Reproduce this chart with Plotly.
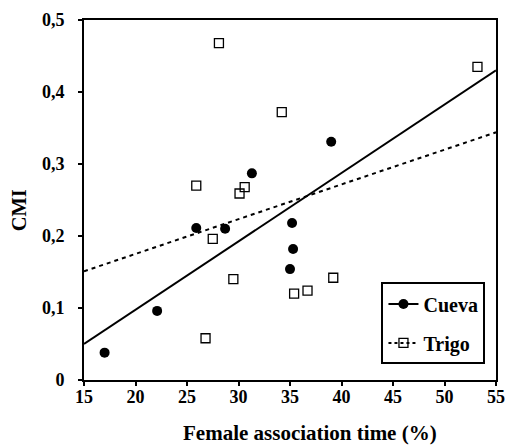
import plotly.graph_objects as go

# Data
cueva_x = [17.0, 22.1, 25.9, 28.7, 31.3, 39.0, 35.2, 35.3, 35.0]
cueva_y = [0.038, 0.096, 0.211, 0.210, 0.287, 0.331, 0.218, 0.182, 0.154]
trigo_x = [28.1, 53.2, 34.2, 25.9, 30.6, 30.1, 27.5, 29.5, 26.8, 35.4, 36.7, 39.2]
trigo_y = [0.468, 0.435, 0.372, 0.270, 0.268, 0.259, 0.196, 0.140, 0.058, 0.120, 0.124, 0.142]
trend_x = [15, 55]
cueva_trend = [0.050, 0.430]
trigo_trend = [0.151, 0.344]
x_ticks = [15, 20, 25, 30, 35, 40, 45, 50, 55]
x_ticklabels = ["15", "20", "25", "30", "35", "40", "45", "50", "55"]
y_ticks = [0, 0.1, 0.2, 0.3, 0.4, 0.5]
y_ticklabels = ["0", "0,1", "0,2", "0,3", "0,4", "0,5"]

FONT = "Liberation Serif"

fig = go.Figure()
fig.add_trace(go.Scatter(x=trend_x, y=cueva_trend, mode="lines",
                         line=dict(color="black", width=2), showlegend=False))
fig.add_trace(go.Scatter(x=trend_x, y=trigo_trend, mode="lines",
                         line=dict(color="black", width=2, dash="4px,4px"), showlegend=False))
fig.add_trace(go.Scatter(x=cueva_x, y=cueva_y, mode="markers",
                         marker=dict(symbol="circle", size=10, color="black"), showlegend=False))
fig.add_trace(go.Scatter(x=trigo_x, y=trigo_y, mode="markers",
                         marker=dict(symbol="square-open", size=9, color="black",
                                     line=dict(width=1.3)), showlegend=False))
# legend entries
fig.add_trace(go.Scatter(x=[None], y=[None], mode="lines+markers", name="<b>Cueva</b>",
                         legendgroup="a",
                         line=dict(color="black", width=2),
                         marker=dict(symbol="circle", size=10, color="black")))
fig.add_trace(go.Scatter(x=[None], y=[None], mode="lines+markers", name="<b>Trigo</b>",
                         legendgroup="b",
                         line=dict(color="black", width=2, dash="3px,3px"),
                         marker=dict(symbol="square-open", size=9, color="black", line=dict(width=1.3))))

fig.update_layout(
    width=515, height=445,
    margin=dict(l=84, r=10, t=17, b=65),
    paper_bgcolor="white", plot_bgcolor="white",
    font=dict(family=FONT, size=18, color="black"),
    showlegend=True,
    legend=dict(x=0.722, y=0.271, xanchor="left", yanchor="top",
                bordercolor="black", borderwidth=2, bgcolor="white",
                font=dict(family=FONT, size=20, color="black"),
                itemwidth=30,
                tracegroupgap=10, traceorder="grouped"),
    annotations=[
        dict(text="<b>Female association time (%)</b>", xref="paper", yref="paper",
             x=(315 - 84) / 421, y=(380 - 433) / 363, xanchor="center", yanchor="middle",
             showarrow=False, font=dict(family=FONT, size=21, color="black")),
        dict(text="<b>CMI</b>", xref="paper", yref="paper", textangle=-90,
             x=(17.5 - 84) / 421, y=(380 - 209) / 363, xanchor="center", yanchor="middle",
             showarrow=False, font=dict(family=FONT, size=20.5, color="black")),
    ],
)
fig.update_xaxes(range=[15, 55], tickvals=x_ticks,
                 ticktext=["<b>%s</b>" % t for t in x_ticklabels],
                 ticks="outside", ticklen=4, ticklabelstandoff=-5,
                 tickwidth=1.5, tickcolor="black",
                 showline=True, linecolor="black", linewidth=2, mirror=True,
                 showgrid=False, zeroline=False,
                 tickfont=dict(family=FONT, size=18))
fig.update_yaxes(range=[0, 0.5], tickvals=y_ticks,
                 ticktext=["<b>%s</b>" % t for t in y_ticklabels],
                 ticks="outside", ticklen=4, ticklabelstandoff=10, tickwidth=1.5, tickcolor="black",
                 showline=True, linecolor="black", linewidth=2, mirror=True,
                 showgrid=False, zeroline=False,
                 tickfont=dict(family=FONT, size=18))

fig.write_html("out.html")
